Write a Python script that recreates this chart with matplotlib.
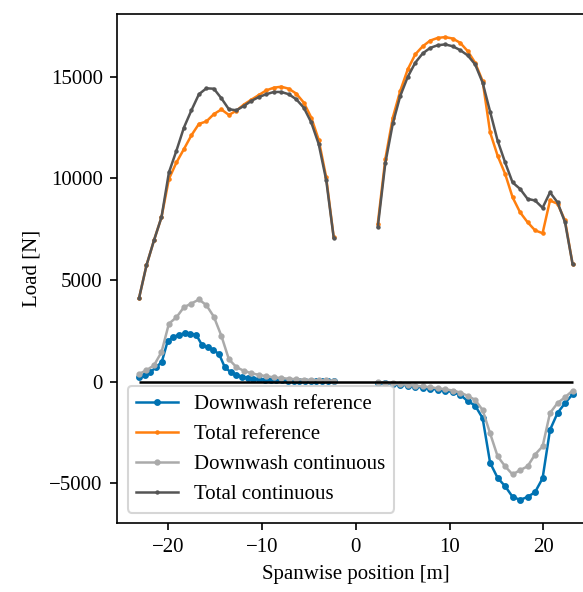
import numpy as np
import matplotlib
matplotlib.use("Agg")
import matplotlib.pyplot as plt

plt.rcParams['font.family'] = ['Liberation Serif', 'DejaVu Serif']
plt.rcParams['font.size'] = 10

# spanwise stations [m]
x_left = [-23.10, -22.30, -21.50, -20.70, -19.91, -19.11, -18.31, -17.51, -16.71,
          -15.92, -15.12, -14.32, -13.52, -12.72, -11.93, -11.13, -10.33, -9.53,
          -8.73, -7.94, -7.14, -6.34, -5.54, -4.74, -3.95, -3.15, -2.35]
x_right = [2.35, 3.15, 3.95, 4.74, 5.54, 6.34, 7.14, 7.94, 8.73, 9.53, 10.33,
           11.13, 11.93, 12.72, 13.52, 14.32, 15.12, 15.92, 16.71, 17.51, 18.31,
           19.11, 19.91, 20.70, 21.50, 22.30, 23.10]
# the downwash reference on the left wing has a finer grid
x_left_fine = [-23.10, -22.49, -21.88, -21.27, -20.66, -20.05, -19.44, -18.83,
               -18.22, -17.61, -17.00, -16.39, -15.78, -15.17, -14.56, -13.95,
               -13.34, -12.73, -12.12, -11.51, -10.90, -10.29, -9.68, -9.07,
               -8.46, -7.85, -7.24, -6.63, -6.02, -5.41, -4.80, -4.19, -3.58,
               -2.96, -2.35]

# loads [N]
dw_ref_left = [210, 330, 480, 700, 980, 1980, 2190, 2310, 2370, 2360,
               2300, 1800, 1680, 1550, 1350, 700, 470, 340, 240, 180,
               140, 115, 95, 80, 65, 55, 45, 38, 30, 25, 20, 15, 12, 8, 5]
dw_ref_right = [-50, -80, -110, -150, -200, -250, -300, -350, -400, -450, -520,
                -650, -960, -1180, -1800, -4000, -4740, -5150, -5670, -5820,
                -5680, -5440, -4760, -2380, -1550, -1060, -630]

tot_ref_left = [4090, 5720, 6950, 8090, 9970, 10780, 11440, 12120, 12680, 12800,
                13160, 13390, 13120, 13330, 13630, 13870, 14100, 14330, 14460,
                14510, 14410, 14170, 13730, 12990, 11900, 10050, 7110]
tot_ref_right = [7770, 10950, 12990, 14300, 15360, 16100, 16500, 16780, 16910,
                 16950, 16880, 16670, 16260, 15690, 14790, 12260, 11110, 10220,
                 9070, 8330, 7840, 7440, 7300, 8910, 8750, 7930, 5800]

dw_cont_left = [370, 560, 800, 1450, 2850, 3160, 3660, 3840, 4040, 3760, 3190,
                2250, 1100, 710, 530, 410, 330, 260, 210, 170, 140, 115, 95, 80,
                65, 55, 45]
dw_cont_right = [-30, -60, -90, -120, -160, -200, -240, -280, -330, -380, -440,
                 -540, -700, -900, -1400, -2550, -3680, -4170, -4570, -4360,
                 -4170, -3590, -3190, -1550, -1060, -770, -450]

tot_cont_left = [4090, 5720, 6950, 8090, 10290, 11360, 12500, 13350, 14140, 14430,
                 14410, 13940, 13400, 13350, 13560, 13810, 14000, 14140, 14250,
                 14250, 14140, 13890, 13480, 12750, 11690, 9920, 7080]
tot_cont_right = [7600, 10740, 12700, 14050, 14990, 15690, 16150, 16420, 16550,
                  16590, 16500, 16310, 16050, 15610, 14710, 13280, 11850, 10780,
                  9800, 9480, 8990, 8910, 8550, 9310, 8820, 7840, 5800]


def join(left, right):
    # nan between the wings so the root is left open
    return np.concatenate([left, [np.nan], right])


fig = plt.figure(figsize=(583 / 150, 592 / 150), dpi=150)
ax = fig.add_axes([0.2012, 0.1166, 0.818, 0.8598])

ax.hlines(0, x_left[0], x_right[-1], color="k", lw=1.2, zorder=3)

ax.plot(join(x_left_fine, x_right), join(dw_ref_left, dw_ref_right),
        color="#0072b2", lw=1.2, marker="o", ms=2.3, label="Downwash reference")
ax.plot(join(x_left, x_right), join(tot_ref_left, tot_ref_right),
        color="#ff7f0e", lw=1.2, marker="o", ms=1.2, label="Total reference")
ax.plot(join(x_left, x_right), join(dw_cont_left, dw_cont_right),
        color="#aaaaaa", lw=1.2, marker="o", ms=2.0, label="Downwash continuous")
ax.plot(join(x_left, x_right), join(tot_cont_left, tot_cont_right),
        color="#555555", lw=1.2, marker="o", ms=1.1, label="Total continuous")

ax.set_xlabel("Spanwise position [m]")
ax.set_ylabel("Load [N]")
ax.legend(loc="lower left")

fig.savefig("out.png", dpi=150)
